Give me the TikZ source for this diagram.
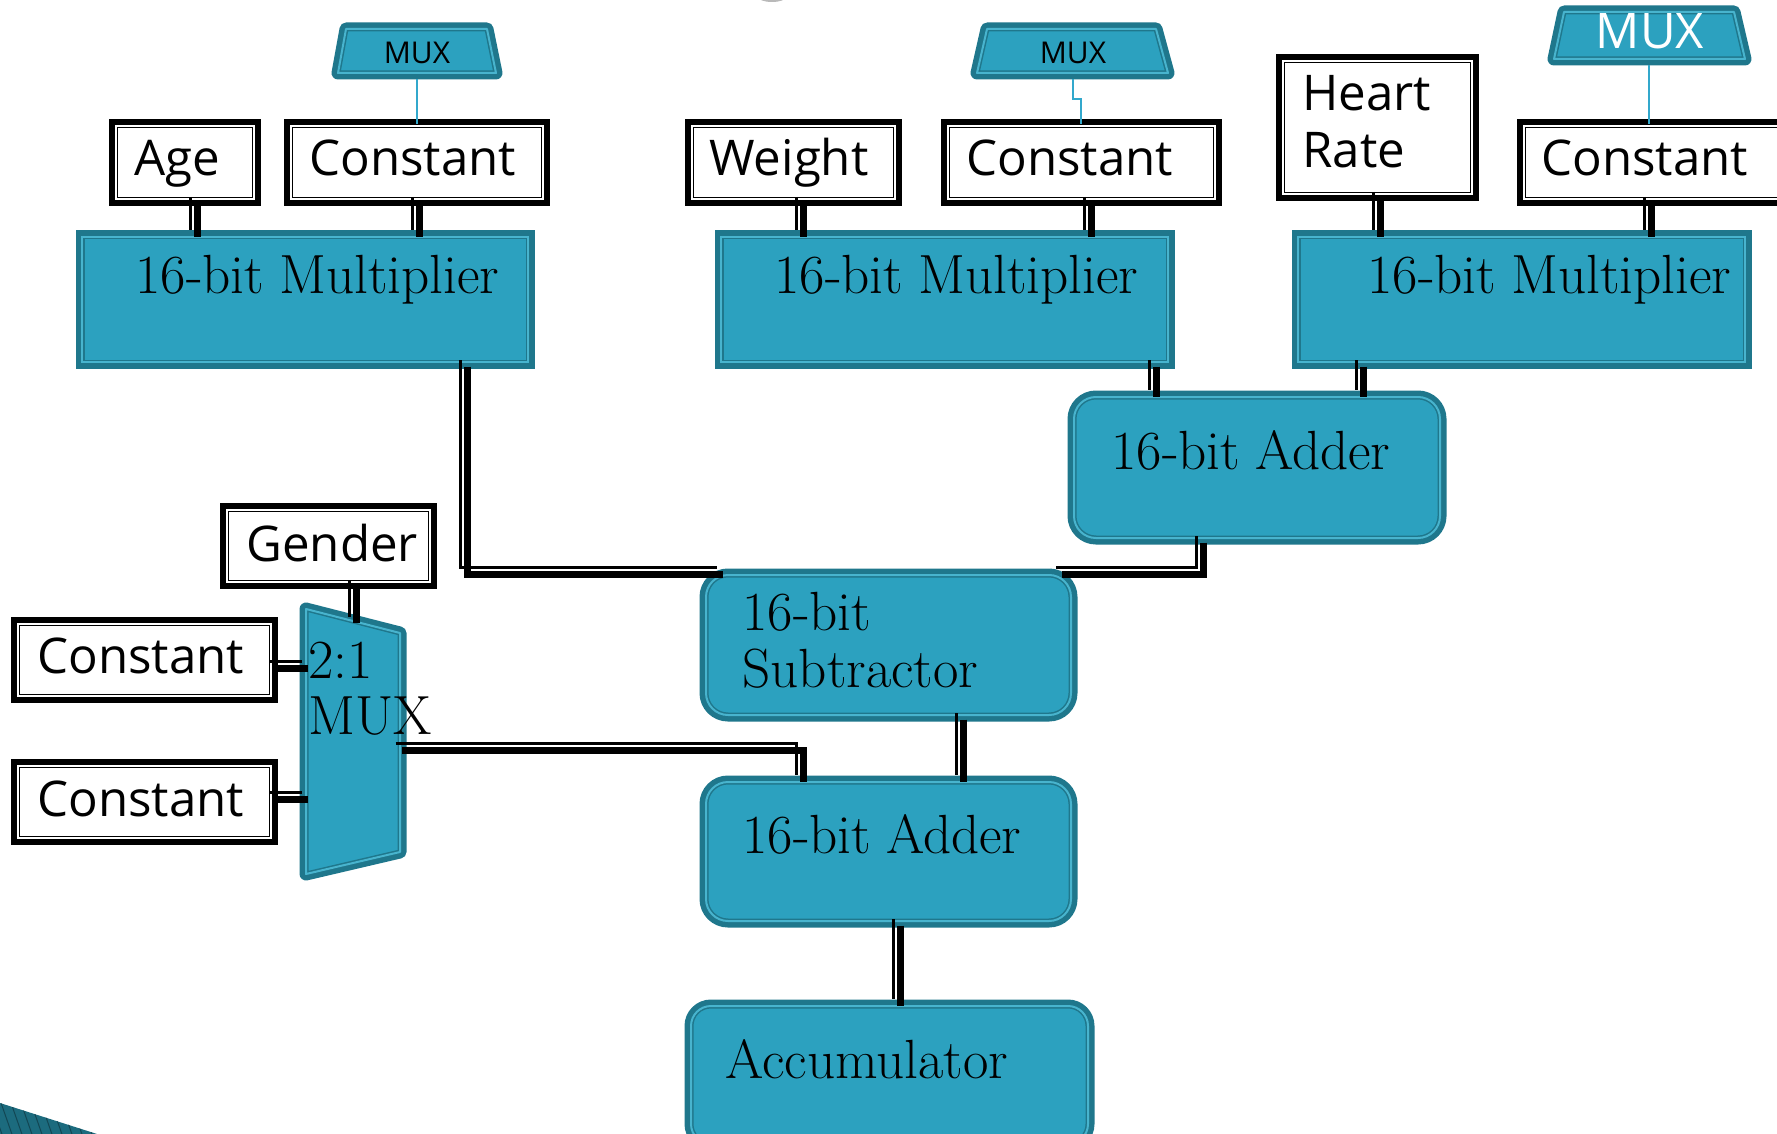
\documentclass[tikz,border=0pt]{standalone}
\usepackage{fontspec}
\newfontfamily\labfont{Open Sans}
\definecolor{tfill}{RGB}{44,161,191}
\definecolor{tdark}{RGB}{31,119,140}
\definecolor{tlight}{RGB}{72,180,206}
\definecolor{tline}{RGB}{50,168,204}
\newcommand\mkbox[7]{%
  \pgfmathsetmacro\mkX{(#3+#5)/2}%
  \pgfmathsetmacro\mkY{(#4+#6)/2}%
  \pgfmathsetmacro\mkW{(#5-#3-2*#7)/2}%
  \pgfmathsetmacro\mkH{(#6-#4-2*#7)/2}%
  \node[#1, minimum width=\mkW pt, minimum height=\mkH pt] (#2) at (\mkX,\mkY) {};}
\newcommand\bus[1]{\draw[busthin] #1; \draw[busthick] #1;}
\newcommand\serfont{\fontsize{27.6}{28.5}\selectfont\spaceskip=0.27em plus 0.1em\relax}
\begin{document}
\begin{tikzpicture}[x=0.5pt,y=-0.5pt,
  tbox/.style={rectangle, inner sep=0pt, fill=tfill, draw=tdark, line width=2.5pt,
    preaction={draw=tdark, line width=6.5pt}, postaction={draw=tlight, line width=1pt}},
  bbox/.style={rectangle, inner sep=0pt, fill=white, draw=black, line width=2.4pt,
    preaction={draw=black, line width=7pt}, postaction={draw=white, line width=1pt}},
  tshape/.style={fill=tfill, draw=tdark, line width=2.5pt, line join=round,
    preaction={draw=tdark, line width=6.5pt, line join=round},
    postaction={draw=tlight, line width=1pt, line join=round}},
  busthin/.style={line width=1.2pt, transform canvas={shift={(-2.2pt,2.2pt)}}},
  busthick/.style={line width=3.6pt, transform canvas={shift={(1.1pt,-1.1pt)}}},
  tl/.style={draw=tline, line width=0.9pt},
  sertext/.style={font=\serfont, inner sep=0pt, anchor=base west, align=left},
  lab/.style={font=\labfont\fontsize{24.6}{28.5}\selectfont, inner sep=0pt, anchor=base west, align=left},
  muxlab/.style={font=\labfont\fontsize{15}{18}\selectfont, inner sep=0pt, anchor=base}
]
\useasboundingbox (0,0) rectangle (1777,1134);

% decorative fragments
\fill[gray!55] (772,-3) ellipse (14 and 5);
\begin{scope}
  \clip (0,1103) -- (97,1134) -- (0,1134) -- cycle;
  \fill[tdark!90!black] (0,1100) rectangle (100,1140);
  \foreach \i in {-20,-10,...,100} \draw[tdark!60!black, line width=0.5pt] (\i,1100) -- (\i+14,1140);
\end{scope}

% MUX trapezoids
\draw[tshape] (346,29) -- (487,29) -- (496,73) -- (338,73) -- cycle;
\node[muxlab] (muxA) at (417,64) {MUX};
\draw[tshape] (987,29) -- (1156,29) -- (1168,73) -- (977,73) -- cycle;
\node[muxlab] (muxB) at (1073,64) {MUX};
\draw[tshape] (1564,12) -- (1734,12) -- (1745,59) -- (1554,59) -- cycle;
\node[font=\labfont\fontsize{24.5}{28}\selectfont, text=white, inner sep=0pt, anchor=base] (muxC) at (1650,49) {MUX};
\draw[tshape] (306,609) -- (400,633) -- (400,852) -- (306,874) -- cycle;

% input boxes
\mkbox{bbox}{age}{109}{119}{261}{206}{7}
\mkbox{bbox}{cA}{284}{119}{550}{206}{7}
\mkbox{bbox}{wt}{685}{119}{902}{206}{7}
\mkbox{bbox}{cB}{941}{119}{1222}{206}{7}
\mkbox{bbox}{hr}{1276}{54}{1479}{201}{7}
\mkbox{bbox}{cC}{1517}{119}{1800}{206}{7}
\mkbox{bbox}{gen}{220}{503}{437}{589}{7}
\mkbox{bbox}{cD}{11}{617}{278}{703}{7}
\mkbox{bbox}{cE}{11}{759}{278}{845}{7}

% functional blocks
\mkbox{tbox}{mA}{76}{231}{534}{368}{6}
\mkbox{tbox}{mB}{715}{231}{1174}{368}{6}
\mkbox{tbox}{mC}{1292}{231}{1751}{368}{6}
\mkbox{tbox,rounded corners=11pt}{adA}{1068}{391}{1446}{544}{6}
\mkbox{tbox,rounded corners=11pt}{sub}{700}{569}{1077}{721}{6}
\mkbox{tbox,rounded corners=11pt}{adB}{700}{776}{1077}{927}{6}
\mkbox{tbox,rounded corners=10pt}{acc}{685}{1000}{1094}{1150}{6}

% texts
\node[lab] (tAge) at (134,176) {Age};
\node[lab] (tcA) at (309,176) {Constant};
\node[lab] (tWt) at (709,176) {Weight};
\node[lab] (tcB) at (966,176) {Constant};
\node[lab] (tcC) at (1541,176) {Constant};
\node[lab] (tHr) at (1302,168) {Heart\\Rate};
\node[lab] (tGen) at (246,561) {Gender};
\node[lab] (tcD) at (37,673) {Constant};
\node[lab] (tcE) at (37,816) {Constant};
\node[sertext] (tmA) at (135,293) {16-bit Multiplier};
\node[sertext] (tmB) at (774,293) {16-bit Multiplier};
\node[sertext] (tmC) at (1367,293) {16-bit Multiplier};
\node[sertext] (tadA) at (1111,469) {16-bit Adder};
\node[sertext] (tsub) at (742,687) {16-bit\\Subtractor};
\node[sertext] (tadB) at (742,853) {16-bit Adder};
\node[sertext] (tacc) at (725,1078) {Accumulator};
\node[sertext, font=\fontsize{27.6}{28}\selectfont] (tmux) at (308,734) {2:1\\MUX};

% coordinates
\coordinate (xAge) at (195,0);
\coordinate (xcA) at (417,0);
\coordinate (xmA) at (465,0);
\coordinate (xWt) at (801,0);
\coordinate (xcB) at (1089,0);
\coordinate (xmB) at (1154,0);
\coordinate (xHr) at (1378,0);
\coordinate (xcC) at (1649,0);
\coordinate (xmC) at (1361,0);
\coordinate (xadA) at (1201,0);
\coordinate (xsub) at (961,0);
\coordinate (xadB) at (898,0);
\coordinate (xmx) at (801,0);
\coordinate (yD) at (0,666);
\coordinate (yE) at (0,797);
\coordinate (jS) at (721,572);
\coordinate (jT) at (1060,572);
\coordinate (muxGin) at (354,621);
\coordinate (muxIn1) at (306,666);
\coordinate (muxIn2) at (306,797);
\coordinate (muxOut) at (400,748);
\coordinate (muxAo) at (417,79);
\coordinate (muxBo) at (1073,79);
\coordinate (muxBj) at (1073,99);
\coordinate (muxBk) at (1081,99);
\coordinate (muxCo) at (1649,65);

% MUX select lines
\draw[tl] (muxAo) -- (cA.north -| muxAo);
\draw[tl] (muxBo) -- (muxBj) -- (muxBk) -- (cB.north -| muxBk);
\draw[tl] (muxCo) -- (cC.north -| muxCo);

% buses
\bus{(age.south -| xAge) -- (mA.north -| xAge)}
\bus{(cA.south -| xcA) -- (mA.north -| xcA)}
\bus{(wt.south -| xWt) -- (mB.north -| xWt)}
\bus{(cB.south -| xcB) -- (mB.north -| xcB)}
\bus{(hr.south -| xHr) -- (mC.north -| xHr)}
\bus{(cC.south -| xcC) -- (mC.north -| xcC)}
\bus{(mB.south -| xmB) -- (adA.north -| xmB)}
\bus{(mC.south -| xmC) -- (adA.north -| xmC)}
\bus{(mA.south -| xmA) |- (jS)}
\bus{(adA.south -| xadA) |- (jT)}
\bus{(gen.south -| muxGin) -- (muxGin)}
\bus{(cD.east |- yD) -- (muxIn1)}
\bus{(cE.east |- yE) -- (muxIn2)}
\bus{(muxOut) -| (adB.north -| xmx)}
\bus{(sub.south -| xsub) -- (adB.north -| xsub)}
\bus{(adB.south -| xadB) -- (acc.north -| xadB)}
\end{tikzpicture}
\end{document}
